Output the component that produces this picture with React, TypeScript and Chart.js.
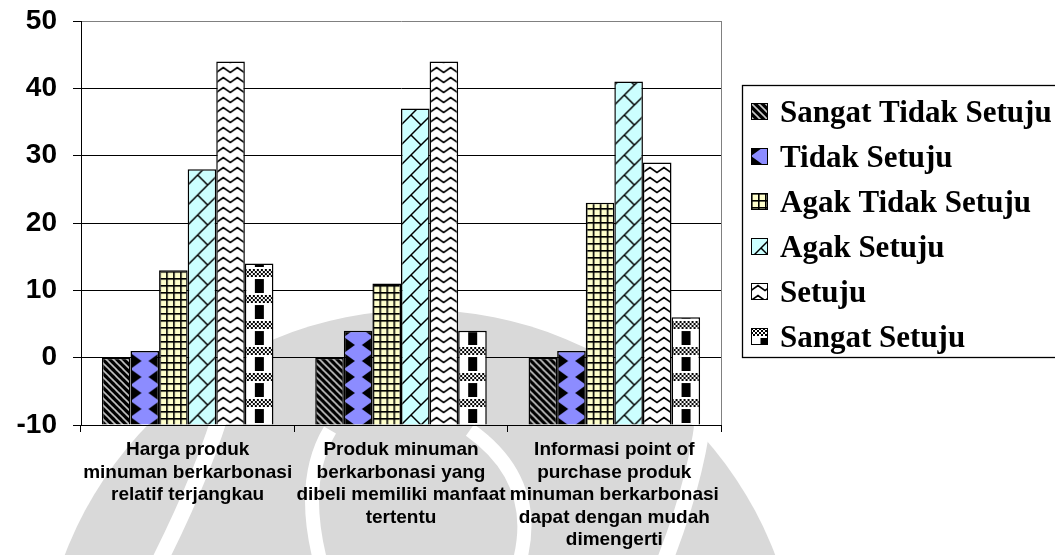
import React, { useEffect, useRef } from "react";
import { Chart, registerables } from "chart.js";

Chart.register(...registerables);

// ---- data ----
const categories: string[][] = [
  ["Harga produk", "minuman berkarbonasi", "relatif terjangkau"],
  ["Produk minuman", "berkarbonasi yang", "dibeli memiliki manfaat", "tertentu"],
  ["Informasi point of", "purchase produk", "minuman berkarbonasi", "dapat dengan mudah", "dimengerti"],
];
const seriesNames = [
  "Sangat Tidak Setuju",
  "Tidak Setuju",
  "Agak Tidak Setuju",
  "Agak Setuju",
  "Setuju",
  "Sangat Setuju",
];
const sangatTidakSetuju = [0, 0, 0];
const tidakSetuju = [1, 4, 1];
const agakTidakSetuju = [13, 11, 23];
const agakSetuju = [28, 37, 41];
const setuju = [44, 44, 29];
const sangatSetuju = [14, 4, 6];
const seriesValues = [sangatTidakSetuju, tidakSetuju, agakTidakSetuju, agakSetuju, setuju, sangatSetuju];
const yMin = -10;
const yMax = 50;
const yStep = 10;

// ---- layout / style ----
const W = 1055;
const H = 555;
const CATEGORY_PCT = 0.804;
const SANS = '"Liberation Sans", Arial, sans-serif';
const SERIF = '"Liberation Serif", "Times New Roman", serif';

type TileKind = "stripe" | "diamond" | "grid" | "brick" | "wave" | "checker";
const tileKinds: TileKind[] = ["stripe", "diamond", "grid", "brick", "wave", "checker"];
const fallbackColors = ["#000000", "#8c8cff", "#ffffcc", "#ccffff", "#ffffff", "#ffffff"];

function makeTile(kind: TileKind, barW: number): HTMLCanvasElement {
  const c = document.createElement("canvas");
  const bw = Math.max(16, Math.round(barW));
  let w = 8;
  let h = 8;
  if (kind === "stripe") { w = 7; h = 7; }
  if (kind === "diamond") { w = bw; h = 16; }
  if (kind === "grid") { w = 7; h = 7; }
  if (kind === "brick") { w = 20; h = 20; }
  if (kind === "wave") { w = 14; h = 10; }
  if (kind === "checker") { w = bw; h = 26; }
  c.width = w;
  c.height = h;
  const g = c.getContext("2d")!;
  switch (kind) {
    case "stripe": {
      g.fillStyle = "#000";
      g.fillRect(0, 0, w, h);
      g.strokeStyle = "#c8c8c8";
      g.lineWidth = 1.6;
      for (const off of [-7, 0, 7]) {
        g.beginPath();
        g.moveTo(off - 1, -1);
        g.lineTo(off + 8, 8);
        g.stroke();
      }
      break;
    }
    case "diamond": {
      g.fillStyle = "#8c8cff";
      g.fillRect(0, 0, w, h);
      g.fillStyle = "#000";
      for (const cy of [0, 16]) {
        g.beginPath();
        g.moveTo(0, cy - 8);
        g.lineTo(11, cy);
        g.lineTo(0, cy + 8);
        g.closePath();
        g.fill();
        g.beginPath();
        g.moveTo(w, cy - 8);
        g.lineTo(w - 11, cy);
        g.lineTo(w, cy + 8);
        g.closePath();
        g.fill();
      }
      break;
    }
    case "grid": {
      g.fillStyle = "#ffffcc";
      g.fillRect(0, 0, w, h);
      g.fillStyle = "#000";
      g.fillRect(0, 0, w, 1.6);
      g.fillRect(0, 0, 1.6, h);
      break;
    }
    case "brick": {
      g.fillStyle = "#ccffff";
      g.fillRect(0, 0, w, h);
      g.strokeStyle = "#000";
      g.lineWidth = 1.5;
      const T = w;
      for (const s of [0, T, 2 * T]) {
        g.beginPath();
        g.moveTo(s - T - 1, T + 1);
        g.lineTo(s + 1, -1);
        g.stroke();
      }
      g.beginPath();
      g.moveTo(T / 2, T / 2);
      g.lineTo(T + 1, T + 1);
      g.stroke();
      break;
    }
    case "wave": {
      g.fillStyle = "#fff";
      g.fillRect(0, 0, w, h);
      g.strokeStyle = "#000";
      g.lineWidth = 1.8;
      g.beginPath();
      g.moveTo(-7, 2.5);
      g.lineTo(0, 7.5);
      g.lineTo(7, 2.5);
      g.lineTo(14, 7.5);
      g.lineTo(21, 2.5);
      g.stroke();
      break;
    }
    case "checker": {
      g.fillStyle = "#fff";
      g.fillRect(0, 0, w, h);
      g.fillStyle = "#000";
      for (let x = 0; x < w; x += 2) {
        for (let y = 0; y < 8; y += 2) {
          if (((x + y) / 2) % 2 === 0) g.fillRect(x, y, 2, 2);
        }
      }
      g.fillRect(w / 2 - 4.5, 10, 9, 14);
      break;
    }
  }
  return c;
}

const tileCache = new Map<string, HTMLCanvasElement>();
function tileFor(kind: TileKind, barW: number) {
  const key = kind + ":" + Math.round(barW);
  let t = tileCache.get(key);
  if (!t) {
    t = makeTile(kind, barW);
    tileCache.set(key, t);
  }
  return t;
}

function patternAt(ctx: CanvasRenderingContext2D, kind: TileKind, barW: number, x: number, y: number) {
  const p = ctx.createPattern(tileFor(kind, barW), "repeat")!;
  p.setTransform(new DOMMatrix([1, 0, 0, 1, x, y]));
  return p;
}

function barPattern(chart: any, dsIndex: number, dataIndex: number) {
  const xs = chart.scales && chart.scales.x;
  const ys = chart.scales && chart.scales.y;
  if (!xs || !ys) return fallbackColors[dsIndex];
  const catW = (xs.right - xs.left) / categories.length;
  const groupW = catW * CATEGORY_PCT;
  const barW = groupW / seriesNames.length;
  const left = xs.getPixelForValue(dataIndex) - groupW / 2 + dsIndex * barW;
  const bottom = ys.getPixelForValue(yMin);
  if (!isFinite(barW) || barW <= 0 || !isFinite(left) || !isFinite(bottom)) return fallbackColors[dsIndex];
  return patternAt(chart.ctx, tileKinds[dsIndex], barW, left, bottom);
}

// faint emblem behind the plot: grey disc cut by white curved bands
function drawEmblem(ctx: CanvasRenderingContext2D) {
  ctx.save();
  ctx.fillStyle = "#d9d9d9";
  ctx.beginPath();
  ctx.arc(420, 690, 380, 0, Math.PI * 2);
  ctx.fill();
  ctx.strokeStyle = "#ffffff";
  ctx.lineCap = "butt";
  ctx.lineWidth = 16;
  // outer sweeping bands
  ctx.beginPath();
  ctx.moveTo(160, 560);
  ctx.quadraticCurveTo(205, 470, 225, 400);
  ctx.stroke();
  ctx.beginPath();
  ctx.moveTo(665, 560);
  ctx.quadraticCurveTo(700, 470, 705, 400);
  ctx.stroke();
  // inner bands
  ctx.lineWidth = 14;
  ctx.beginPath();
  ctx.moveTo(320, 560);
  ctx.quadraticCurveTo(300, 480, 330, 430);
  ctx.stroke();
  ctx.beginPath();
  ctx.moveTo(520, 560);
  ctx.quadraticCurveTo(540, 480, 470, 430);
  ctx.stroke();
  ctx.restore();
}

const backgroundPlugin = {
  id: "pageBackground",
  beforeDraw(chart: any) {
    const ctx = chart.ctx as CanvasRenderingContext2D;
    ctx.save();
    ctx.fillStyle = "#fff";
    ctx.fillRect(0, 0, chart.width, chart.height);
    drawEmblem(ctx);
    ctx.restore();
  },
};

const plotFramePlugin = {
  id: "plotFrame",
  beforeDatasetsDraw(chart: any) {
    const { ctx, chartArea } = chart;
    ctx.save();
    ctx.strokeStyle = "#808080";
    ctx.lineWidth = 1;
    ctx.beginPath();
    ctx.moveTo(chartArea.right + 0.5, chartArea.top);
    ctx.lineTo(chartArea.right + 0.5, chartArea.bottom);
    ctx.stroke();
    ctx.restore();
  },
};

const legendPlugin = {
  id: "boxLegend",
  afterDraw(chart: any) {
    const ctx = chart.ctx as CanvasRenderingContext2D;
    const lx = 742;
    const ly = 85;
    const lh = 272;
    ctx.save();
    ctx.fillStyle = "#fff";
    ctx.fillRect(lx, ly, chart.width - lx + 20, lh);
    ctx.strokeStyle = "#000";
    ctx.lineWidth = 1.3;
    ctx.strokeRect(lx + 0.5, ly + 0.5, chart.width, lh);
    chart.data.datasets.forEach((ds: any, i: number) => {
      const cy = 111 + 45 * i;
      const mx = 751;
      const my = cy - 8;
      ctx.fillStyle = patternAt(ctx, tileKinds[i], 28, mx, my);
      ctx.fillRect(mx, my, 16, 16);
      ctx.strokeStyle = "#000";
      ctx.lineWidth = 1;
      ctx.strokeRect(mx + 0.5, my + 0.5, 16, 16);
      ctx.fillStyle = "#000";
      ctx.font = `bold 31px ${SERIF}`;
      ctx.textBaseline = "alphabetic";
      ctx.textAlign = "left";
      ctx.fillText(ds.label, 780, cy + 11);
    });
    ctx.restore();
  },
};

export default function App() {
  const ref = useRef<HTMLCanvasElement>(null);

  useEffect(() => {
    const canvas = ref.current!;
    const chart = new Chart(canvas, {
      type: "bar",
      data: {
        labels: categories,
        datasets: seriesNames.map((name, k) => ({
          label: name,
          data: seriesValues[k],
          base: yMin,
          backgroundColor: (c: any) =>
            c.type === "data" ? barPattern(c.chart, k, c.dataIndex) : fallbackColors[k],
          borderColor: "#000",
          borderWidth: 1.5,
          categoryPercentage: CATEGORY_PCT,
          barPercentage: 1,
        })),
      },
      options: {
        responsive: false,
        animation: false,
        devicePixelRatio: 1,
        layout: { padding: { top: 21, right: 334, left: 0, bottom: 0 } },
        plugins: {
          legend: { display: false },
          tooltip: { enabled: false },
        },
        scales: {
          x: {
            afterFit: (s: any) => {
              s.height = 130;
              s.paddingLeft = 0;
              s.paddingRight = 0;
            },
            grid: {
              drawOnChartArea: false,
              drawTicks: true,
              tickLength: 7,
              color: "#000",
              tickColor: "#000",
              offset: true,
            },
            border: { color: "#000", width: 1 },
            ticks: {
              color: "#000",
              font: { family: SANS, size: 19, weight: "bold", lineHeight: "22.5px" },
              padding: 7,
              maxRotation: 0,
              minRotation: 0,
              autoSkip: false,
            },
          },
          y: {
            min: yMin,
            max: yMax,
            afterFit: (s: any) => {
              s.width = 81;
              s.paddingTop = 0;
              s.paddingBottom = 0;
            },
            grid: {
              color: (c: any) => (c.tick && c.tick.value === yMax ? "#808080" : "#000"),
              tickColor: "#000",
              tickLength: 8,
              lineWidth: 1,
            },
            border: { color: "#000", width: 1 },
            ticks: {
              stepSize: yStep,
              color: "#000",
              padding: 16,
              font: { family: SANS, size: 28, weight: "bold" },
            },
          },
        },
      },
      plugins: [backgroundPlugin, plotFramePlugin, legendPlugin],
    } as any);
    chart.update();
    return () => chart.destroy();
  }, []);

  return (
    <div style={{ position: "absolute", left: 0, top: 0, width: W, height: H, background: "#fff" }}>
      <canvas ref={ref} width={W} height={H} style={{ display: "block", width: W, height: H }} />
    </div>
  );
}
